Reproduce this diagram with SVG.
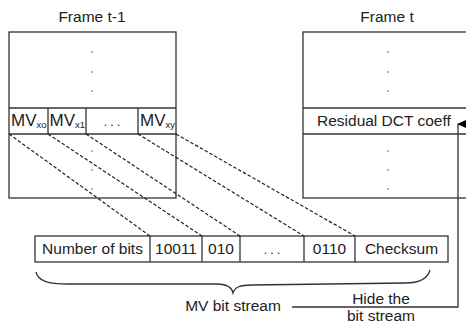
<svg xmlns="http://www.w3.org/2000/svg" width="466" height="324" viewBox="0 0 466 324">
<defs>
<style>
text{font-family:"Liberation Sans",Arial,sans-serif;font-size:15.5px;fill:#222}
.mv{font-size:17px}
.sub{font-size:9.5px}
.box{fill:#fff;stroke:#333;stroke-width:1.3}
.ln{fill:none;stroke:#333;stroke-width:1.3}
.dash{fill:none;stroke:#222;stroke-width:1.2;stroke-dasharray:3.5,2}
.dot{fill:#555}
</style>
<marker id="ah" markerWidth="10" markerHeight="12" refX="5" refY="1" orient="auto-start-reverse" markerUnits="userSpaceOnUse" viewBox="0 0 10 12">
<path d="M0,11 L5,0 L10,11 Z" fill="#000"/>
</marker>
</defs>
<g id="frame-t-1">
<text x="92" y="22" text-anchor="middle">Frame t-1</text>
<rect class="box" x="9" y="32" width="167" height="166"/>
<line class="ln" x1="9" y1="108" x2="176" y2="108"/>
<line class="ln" x1="9" y1="134" x2="176" y2="134"/>
<line class="ln" x1="48" y1="108" x2="48" y2="134"/>
<line class="ln" x1="86" y1="108" x2="86" y2="134"/>
<line class="ln" x1="138" y1="108" x2="138" y2="134"/>
<circle class="dot" cx="92" cy="52" r="0.8"/>
<circle class="dot" cx="92" cy="72" r="0.8"/>
<circle class="dot" cx="92" cy="91" r="0.8"/>
<circle class="dot" cx="92" cy="151" r="0.8"/>
<circle class="dot" cx="92" cy="170" r="0.8"/>
<circle class="dot" cx="92" cy="189" r="0.8"/>
<text class="mv" x="11" y="126">MV<tspan class="sub" dy="2">xo</tspan></text>
<text class="mv" x="49.5" y="126">MV<tspan class="sub" dy="2">x1</tspan></text>
<text x="112" y="126" text-anchor="middle" style="font-size:12px">. . .</text>
<text class="mv" x="140" y="126">MV<tspan class="sub" dy="2">xy</tspan></text>
</g>
<g id="frame-t">
<text x="387" y="22" text-anchor="middle">Frame t</text>
<rect class="box" x="303" y="32" width="170" height="166"/>
<line class="ln" x1="303" y1="108" x2="473" y2="108"/>
<line class="ln" x1="303" y1="134" x2="473" y2="134"/>
<circle class="dot" cx="388" cy="52" r="0.8"/>
<circle class="dot" cx="388" cy="72" r="0.8"/>
<circle class="dot" cx="388" cy="91" r="0.8"/>
<circle class="dot" cx="388" cy="151" r="0.8"/>
<circle class="dot" cx="388" cy="170" r="0.8"/>
<circle class="dot" cx="388" cy="189" r="0.8"/>
<text x="317" y="126">Residual DCT coeff</text>
</g>
<g id="bitstream">
<rect class="box" x="35" y="236" width="413" height="26"/>
<line class="ln" x1="150" y1="236" x2="150" y2="262"/>
<line class="ln" x1="202" y1="236" x2="202" y2="262"/>
<line class="ln" x1="240" y1="236" x2="240" y2="262"/>
<line class="ln" x1="304" y1="236" x2="304" y2="262"/>
<line class="ln" x1="355" y1="236" x2="355" y2="262"/>
<text x="92.5" y="254" text-anchor="middle">Number of bits</text>
<text x="176" y="254" text-anchor="middle">10011</text>
<text x="221" y="254" text-anchor="middle">010</text>
<text x="272" y="254" text-anchor="middle" style="font-size:12px">. . .</text>
<text x="329.5" y="254" text-anchor="middle">0110</text>
<text x="401.5" y="254" text-anchor="middle">Checksum</text>
</g>
<g id="brace">
<path class="ln" d="M36,272 C38,281 48,284 68,284 L216,284 C228,284 232,288 233,293 C235,287 240,285 252,285 L405,283 C421,283 428,278 430,270"/>
<text x="233" y="311" text-anchor="middle">MV bit stream</text>
</g>
<g id="hide-label">
<text x="381" y="304" text-anchor="middle">Hide the</text>
<text x="381" y="321" text-anchor="middle">bit stream</text>
</g>
<g id="connectors">
<line class="dash" x1="9" y1="134" x2="150" y2="236"/>
<line class="dash" x1="48" y1="134" x2="202" y2="236"/>
<line class="dash" x1="86" y1="134" x2="240" y2="236"/>
<line class="dash" x1="138" y1="134" x2="304" y2="236"/>
<line class="dash" x1="176" y1="134" x2="355" y2="236"/>
<path class="ln" d="M292,307 L458,307 L458,124" marker-end="url(#ah)"/>
</g>
</svg>
